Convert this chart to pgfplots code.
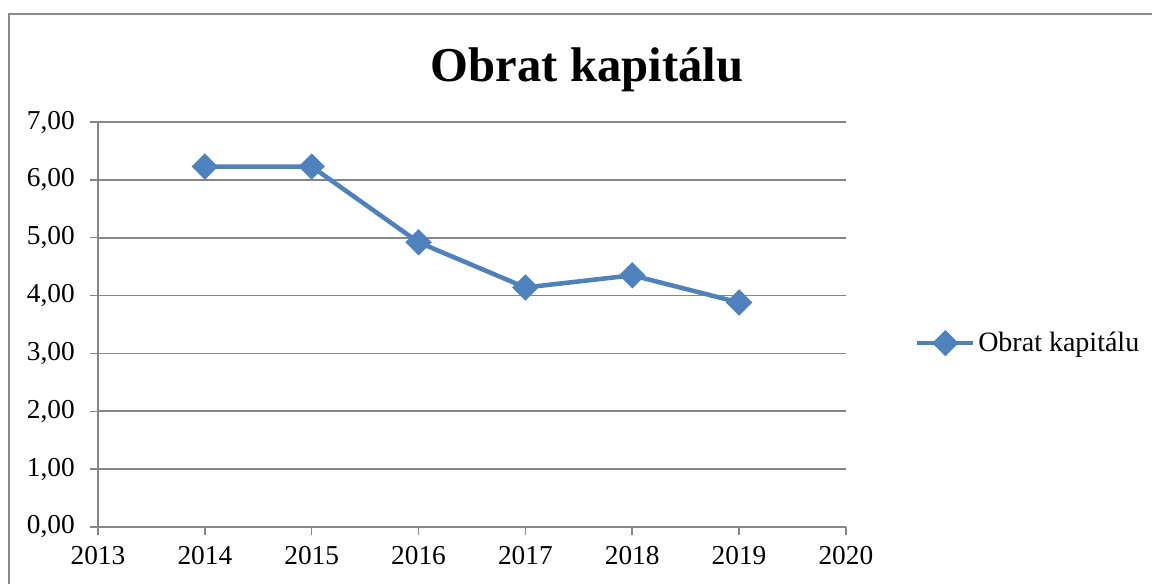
\documentclass[border=0pt]{standalone}
\usepackage{fontspec}
\setmainfont{Liberation Serif}
\usepackage{pgfplots}
\pgfplotsset{compat=1.18}
\definecolor{xblue}{HTML}{4F81BD}
\definecolor{xgrid}{HTML}{868686}
\definecolor{xframe}{HTML}{8C8C8C}

\begin{document}
\begin{tikzpicture}
% 1 px of the reference = 0.75pt; origin at the plot's lower left corner
\useasboundingbox (-73.5pt,-42pt) rectangle (790.5pt,395.25pt);
\draw[xframe, line width=1.6pt] (-66.75pt,-45pt) -- (-66.75pt,384.75pt) -- (795pt,384.75pt);
\node[anchor=base, font=\fontsize{36.5}{40}\selectfont\bfseries]
  at (366.75pt,333.75pt) {Obrat kapitálu};
\begin{axis}[
  at={(0pt,0pt)}, anchor=south west,
  scale only axis, width=561pt, height=303.75pt,
  xmin=2013, xmax=2020, ymin=0, ymax=7,
  xtick={2013,...,2020}, ytick={0,...,7},
  axis x line*=bottom, axis y line*=left,
  axis line style={-, xgrid, line width=1.1pt},
  tick style={xgrid, line width=1.1pt},
  tick align=outside, major tick length=6pt,
  ymajorgrids, grid style={xgrid, line width=1.2pt},
  /pgf/number format/assume math mode=true,
  tick label style={font=\fontsize{20.5}{23}\selectfont},
  xticklabel style={yshift=-5pt, /pgf/number format/1000 sep={}},
  yticklabel style={xshift=-8pt, /pgf/number format/.cd, fixed, fixed zerofill,
    precision=2, use comma},
  legend style={at={(axis description cs:1.092,0.454)}, anchor=west,
    draw=none, fill=none, inner sep=0pt,
    font=\fontsize{21}{24}\selectfont},
  legend cell align=left,
  legend image code/.code={\draw[mark repeat=2, mark phase=2, #1]
    plot coordinates {(0pt,0pt) (21pt,0pt) (42pt,0pt)};},
]
\addplot[xblue, line width=3.4pt, mark=square*,
  mark size=5.3pt, mark options={rotate=45, solid}] coordinates {
  (2014,6.23) (2015,6.23) (2016,4.92) (2017,4.14) (2018,4.35) (2019,3.88)
};
\legend{Obrat kapitálu}
\end{axis}
\end{tikzpicture}
\end{document}
